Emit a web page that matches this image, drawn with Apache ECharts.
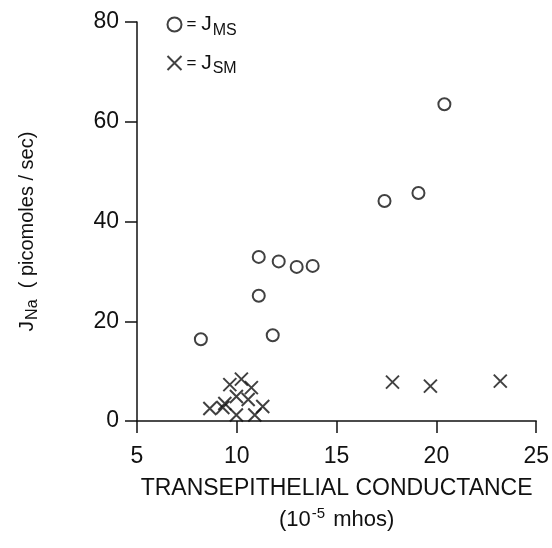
<!DOCTYPE html>
<html>
<head>
<meta charset="utf-8">
<script src="https://cdn.jsdelivr.net/npm/echarts@6/dist/echarts.min.js"></script>
<style>
  html, body { margin: 0; padding: 0; background: #fff; }
  #chart { width: 552px; height: 548px; }
</style>
</head>
<body>
<div id="chart"></div>
<script>
// J_MS (circles)
var msX = [8.2, 11.1, 11.1, 11.8, 12.1, 13.0, 13.8, 17.4, 19.1, 20.4]
var msY = [16.4, 32.9, 25.1, 17.2, 32.0, 30.9, 31.1, 44.1, 45.7, 63.5]
// J_SM (crosses)
var smX = [8.65, 9.3, 9.4, 9.65, 9.98, 9.98, 10.23, 10.57, 10.73, 10.9, 11.3, 17.8, 19.7, 23.2]
var smY = [2.5, 2.7, 3.5, 7.3, 4.9, 1.2, 8.4, 4.3, 6.7, 1.2, 2.9, 7.8, 7.0, 8.0]
var xTicks = [5, 10, 15, 20, 25]
var yTicks = [0, 20, 40, 60, 80]

var font = 'Liberation Sans'
var pair = (xs, ys) => xs.map((v, i) => [v, ys[i]])
var crossPath = 'path://M0,0L10,10M10,0L0,10'

var chart = echarts.init(document.getElementById('chart'))
var option = {
  animation: false,
  backgroundColor: '#fff',
  grid: { left: 137, right: 15, top: 22, bottom: 127 },
  legend: {
    orient: 'vertical',
    left: 160,
    top: 9,
    itemGap: 14,
    itemWidth: 14,
    itemHeight: 14,
    selectedMode: false,
    data: ['MS', 'SM'],
    formatter: name => '= {j|J}{sub|' + name + '}',
    textStyle: {
      fontFamily: font, fontSize: 17, color: '#111',
      rich: {
        j: { fontFamily: font, fontSize: 21, color: '#111' },
        sub: { fontFamily: font, fontSize: 16, color: '#111', padding: [12, 0, 0, 1] }
      }
    }
  },
  xAxis: {
    type: 'value',
    min: xTicks[0], max: xTicks[xTicks.length - 1], interval: 5,
    splitLine: { show: false },
    axisLine: { lineStyle: { color: '#111', width: 1.5 } },
    axisTick: { length: 12, lineStyle: { color: '#111', width: 1.5 } },
    axisLabel: { margin: 24, fontFamily: font, fontSize: 23, color: '#111' },
    name: 'TRANSEPITHELIAL CONDUCTANCE\n{p|(10}{sup|-5}{p| mhos)}',
    nameLocation: 'middle',
    nameGap: 52,
    nameTextStyle: {
      fontFamily: font, fontSize: 23, color: '#111', lineHeight: 31,
      rich: {
        p: { fontFamily: font, fontSize: 22, color: '#111' },
        sup: { fontFamily: font, fontSize: 15, color: '#111', padding: [0, 2, 12, 1] }
      }
    }
  },
  yAxis: {
    type: 'value',
    min: yTicks[0], max: yTicks[yTicks.length - 1], interval: 20,
    splitLine: { show: false },
    axisLine: { show: true, lineStyle: { color: '#111', width: 1.5 } },
    axisTick: { show: true, length: 12, lineStyle: { color: '#111', width: 1.5 } },
    axisLabel: { margin: 18, fontFamily: font, fontSize: 23, color: '#111' },
    name: '{j|J}{sub|Na}{p|  ( picomoles / sec)}',
    nameLocation: 'middle',
    nameGap: 96,
    nameRotate: 90,
    nameTextStyle: {
      padding: [0, 20, 0, 0],
      rich: {
        j: { fontFamily: font, fontSize: 21, color: '#111' },
        sub: { fontFamily: font, fontSize: 16, color: '#111', padding: [12, 0, 0, 1] },
        p: { fontFamily: font, fontSize: 20, color: '#111' }
      }
    }
  },
  series: [
    {
      name: 'MS',
      type: 'scatter',
      symbol: 'emptyCircle',
      symbolSize: 12,
      itemStyle: { color: '#111', borderColor: '#111', borderWidth: 1.6 },
      data: pair(msX, msY)
    },
    {
      name: 'SM',
      type: 'scatter',
      symbol: crossPath,
      symbolSize: 13,
      itemStyle: { color: 'none', borderColor: '#111', borderWidth: 2 },
      data: pair(smX, smY)
    }
  ]
}
chart.setOption(option)
</script>
</body>
</html>
